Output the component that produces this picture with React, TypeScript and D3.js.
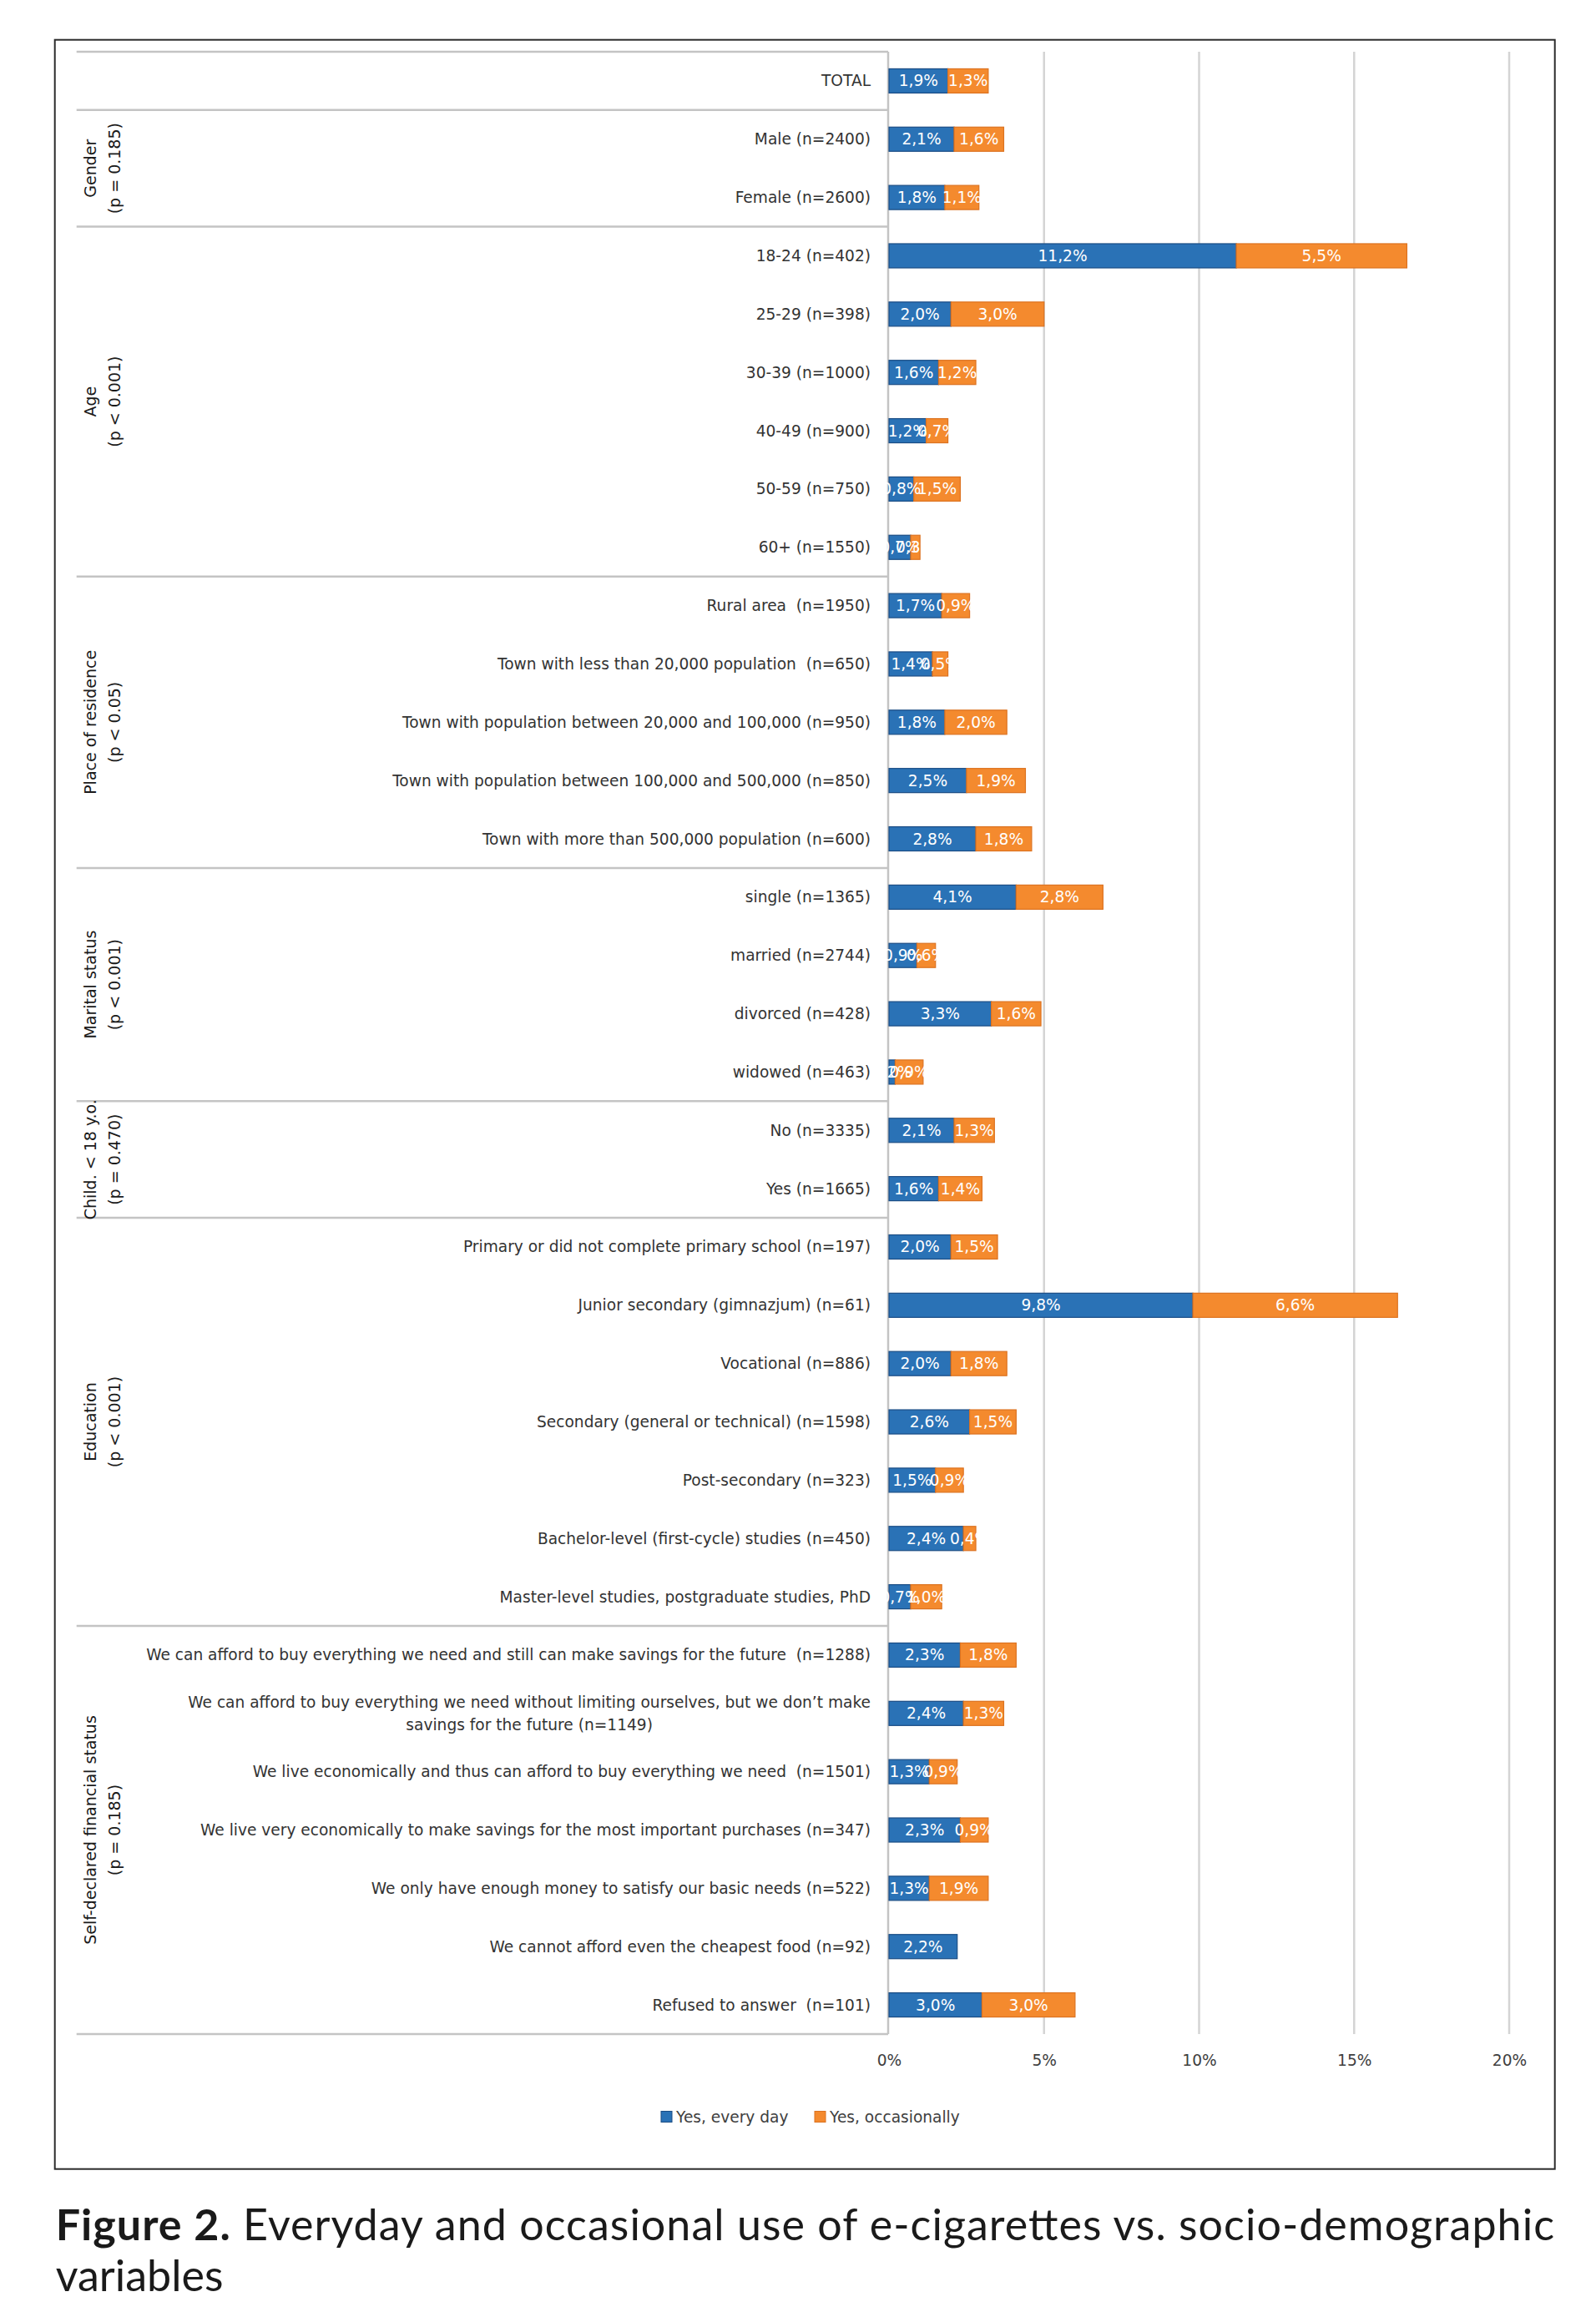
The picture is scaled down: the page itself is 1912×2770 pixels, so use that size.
import React, { useEffect, useRef } from 'react';
import * as d3 from 'd3';

const categories: string[] = [
  'TOTAL',
  'Male (n=2400)',
  'Female (n=2600)',
  '18-24 (n=402)',
  '25-29 (n=398)',
  '30-39 (n=1000)',
  '40-49 (n=900)',
  '50-59 (n=750)',
  '60+ (n=1550)',
  'Rural area  (n=1950)',
  'Town with less than 20,000 population  (n=650)',
  'Town with population between 20,000 and 100,000 (n=950)',
  'Town with population between 100,000 and 500,000 (n=850)',
  'Town with more than 500,000 population (n=600)',
  'single (n=1365)',
  'married (n=2744)',
  'divorced (n=428)',
  'widowed (n=463)',
  'No (n=3335)',
  'Yes (n=1665)',
  'Primary or did not complete primary school (n=197)',
  'Junior secondary (gimnazjum) (n=61)',
  'Vocational (n=886)',
  'Secondary (general or technical) (n=1598)',
  'Post-secondary (n=323)',
  'Bachelor-level (first-cycle) studies (n=450)',
  'Master-level studies, postgraduate studies, PhD',
  'We can afford to buy everything we need and still can make savings for the future  (n=1288)',
  'We can afford to buy everything we need without limiting ourselves, but we don\u2019t make\nsavings for the future (n=1149)',
  'We live economically and thus can afford to buy everything we need  (n=1501)',
  'We live very economically to make savings for the most important purchases (n=347)',
  'We only have enough money to satisfy our basic needs (n=522)',
  'We cannot afford even the cheapest food (n=92)',
  'Refused to answer  (n=101)',
];

const everyDay: number[] = [
  1.9, 2.1, 1.8, 11.2, 2.0, 1.6, 1.2, 0.8, 0.7, 1.7, 1.4, 1.8, 2.5, 2.8, 4.1, 0.9, 3.3, 0.2,
  2.1, 1.6, 2.0, 9.8, 2.0, 2.6, 1.5, 2.4, 0.7, 2.3, 2.4, 1.3, 2.3, 1.3, 2.2, 3.0,
];

const occasionally: number[] = [
  1.3, 1.6, 1.1, 5.5, 3.0, 1.2, 0.7, 1.5, 0.3, 0.9, 0.5, 2.0, 1.9, 1.8, 2.8, 0.6, 1.6, 0.9,
  1.3, 1.4, 1.5, 6.6, 1.8, 1.5, 0.9, 0.4, 1.0, 1.8, 1.3, 0.9, 0.9, 1.9, 0, 3.0,
];

const seriesNames: string[] = ['Yes, every day', 'Yes, occasionally'];

const groupNames: string[] = [
  'Gender',
  'Age',
  'Place of residence',
  'Marital status',
  'Child. < 18 y.o.',
  'Education',
  'Self-declared financial status',
];
const groupPValues: string[] = [
  '(p = 0.185)',
  '(p < 0.001)',
  '(p < 0.05)',
  '(p < 0.001)',
  '(p = 0.470)',
  '(p < 0.001)',
  '(p = 0.185)',
];
const groupSizes: number[] = [2, 6, 5, 4, 2, 7, 7];
const ungroupedLeading = 1; // TOTAL

const xTicks: number[] = [0, 5, 10, 15, 20];

const captionBold = 'Figure 2.';
const captionRest = ' Everyday and occasional use of e-cigarettes vs. socio-demographic';
const captionLine2 = 'variables';

const W = 1912;
const H = 2770;
const BLUE = '#2A72B6';
const BLUE_STROKE = '#1A4C84';
const ORANGE = '#F48A2E';
const ORANGE_STROKE = '#DC7220';
const FONT = '"DejaVu Sans", Verdana, sans-serif';
const CAP_FONT = 'Lato, "Open Sans", sans-serif';

export default function App() {
  const ref = useRef<SVGSVGElement | null>(null);

  useEffect(() => {
    const svg = d3.select(ref.current);
    svg.selectAll('*').remove();

    const frame = { x0: 65.7, y0: 47.7, x1: 1862.7, y1: 2598.7 };
    const plotTop = 62;
    const plotBottom = 2437;
    const tableLeft = 91.7;
    const tableRight = 1064;
    const labelRight = 1043;

    svg.append('rect').attr('width', W).attr('height', H).attr('fill', '#fff');
    svg
      .append('rect')
      .attr('x', frame.x0)
      .attr('y', frame.y0)
      .attr('width', frame.x1 - frame.x0)
      .attr('height', frame.y1 - frame.y0)
      .attr('fill', 'none')
      .attr('stroke', '#2b2b2b')
      .attr('stroke-width', 2);

    const x = d3.scaleLinear().domain([0, 20]).range([1065, 1808]);
    const idx = categories.map((_, i) => i);
    const y = d3
      .scaleBand<number>()
      .domain(idx)
      .range([plotTop, plotBottom])
      .paddingInner(0.585)
      .paddingOuter(0.2925);
    const rows = d3.scaleBand<number>().domain(idx).range([plotTop, plotBottom]).padding(0);
    const rowTop = (i: number) => (i < categories.length ? (rows(i) as number) : plotBottom);

    // gridlines
    svg
      .append('g')
      .selectAll('line')
      .data(xTicks.filter((t) => t > 0))
      .join('line')
      .attr('x1', (d) => x(d))
      .attr('x2', (d) => x(d))
      .attr('y1', plotTop)
      .attr('y2', plotBottom)
      .attr('stroke', '#d4d4d4')
      .attr('stroke-width', 2.5);

    // table separators
    const bounds: number[] = [0, ungroupedLeading];
    let acc = ungroupedLeading;
    groupSizes.forEach((s) => {
      acc += s;
      bounds.push(acc);
    });
    svg
      .append('g')
      .selectAll('line')
      .data(bounds)
      .join('line')
      .attr('x1', tableLeft)
      .attr('x2', tableRight)
      .attr('y1', (d) => rowTop(d))
      .attr('y2', (d) => rowTop(d))
      .attr('stroke', '#c4c4c4')
      .attr('stroke-width', 2.5);
    svg
      .append('line')
      .attr('x1', tableRight)
      .attr('x2', tableRight)
      .attr('y1', plotTop)
      .attr('y2', plotBottom)
      .attr('stroke', '#c4c4c4')
      .attr('stroke-width', 2.5);

    // group labels
    const gGroups = svg.append('g').attr('font-family', FONT).attr('font-size', 19).attr('fill', '#1a1a1a');
    let start = ungroupedLeading;
    groupNames.forEach((name, gi) => {
      const top = rowTop(start);
      const bottom = rowTop(start + groupSizes[gi]);
      const cy = (top + bottom) / 2;
      [name, groupPValues[gi]].forEach((t, li) => {
        gGroups
          .append('text')
          .attr('transform', `translate(${li === 0 ? 108 : 137},${cy}) rotate(-90)`)
          .attr('text-anchor', 'middle')
          .attr('dominant-baseline', 'central')
          .text(t);
      });
      start += groupSizes[gi];
    });

    // category labels
    const gCats = svg
      .append('g')
      .attr('font-family', FONT)
      .attr('font-size', 18.6)
      .attr('fill', '#333');
    categories.forEach((c, i) => {
      const cy = (y(i) as number) + y.bandwidth() / 2;
      const lines = c.split('\n');
      if (lines.length === 1) {
        gCats
          .append('text')
          .attr('x', labelRight)
          .attr('y', cy)
          .attr('text-anchor', 'end')
          .attr('dominant-baseline', 'central')
          .style('white-space', 'pre')
          .text(c);
      } else {
        const lh = 27;
        const t1 = gCats
          .append('text')
          .attr('x', labelRight)
          .attr('y', cy - lh / 2)
          .attr('text-anchor', 'end')
          .attr('dominant-baseline', 'central')
          .style('white-space', 'pre')
          .text(lines[0]);
        const w1 = (t1.node() as SVGTextElement).getComputedTextLength();
        gCats
          .append('text')
          .attr('x', labelRight - w1 / 2)
          .attr('y', cy + lh / 2)
          .attr('text-anchor', 'middle')
          .attr('dominant-baseline', 'central')
          .style('white-space', 'pre')
          .text(lines[1]);
      }
    });

    // stacked bars
    const table = categories.map((c, i) => ({ i, every: everyDay[i], occ: occasionally[i] }));
    const stacked = d3.stack<any>().keys(['every', 'occ'])(table);
    const fills = [BLUE, ORANGE];
    const strokes = [BLUE_STROKE, ORANGE_STROKE];
    const gBars = svg.append('g');
    stacked.forEach((layer, li) => {
      gBars
        .append('g')
        .selectAll('rect')
        .data(layer.filter((d) => d[1] - d[0] > 0))
        .join('rect')
        .attr('x', (d) => x(d[0]))
        .attr('y', (d) => y(d.data.i) as number)
        .attr('width', (d) => x(d[1]) - x(d[0]))
        .attr('height', y.bandwidth())
        .attr('fill', fills[li])
        .attr('stroke', strokes[li])
        .attr('stroke-width', 1.2);
    });
    const fmt = (v: number) => v.toFixed(1).replace('.', ',') + '%';
    const gLabels = svg.append('g').attr('font-family', FONT).attr('font-size', 18.6).attr('fill', '#fff');
    stacked.forEach((layer) => {
      gLabels
        .append('g')
        .selectAll('text')
        .data(layer.filter((d) => d[1] - d[0] > 0))
        .join('text')
        .attr('x', (d) => (x(d[0]) + x(d[1])) / 2)
        .attr('y', (d) => (y(d.data.i) as number) + y.bandwidth() / 2)
        .attr('text-anchor', 'middle')
        .attr('dominant-baseline', 'central')
        .text((d) => fmt(d[1] - d[0]));
    });

    // x axis
    const axis = d3
      .axisBottom(x)
      .tickValues(xTicks)
      .tickSize(0)
      .tickPadding(0)
      .tickFormat((d) => `${d}%`);
    const gAxis = svg.append('g').attr('transform', `translate(0,2468)`).call(axis);
    gAxis.select('.domain').remove();
    gAxis
      .selectAll('text')
      .attr('dy', null)
      .attr('y', 0)
      .attr('dominant-baseline', 'central')
      .attr('font-family', FONT)
      .attr('font-size', 18.6)
      .attr('fill', '#404040');

    // legend
    const legendX = [792, 976];
    const gLeg = svg.append('g').attr('font-family', FONT).attr('font-size', 18.6).attr('fill', '#404040');
    seriesNames.forEach((s, i) => {
      gLeg
        .append('rect')
        .attr('x', legendX[i])
        .attr('y', 2529.5)
        .attr('width', 13)
        .attr('height', 13)
        .attr('fill', fills[i])
        .attr('stroke', strokes[i])
        .attr('stroke-width', 1);
      gLeg
        .append('text')
        .attr('x', legendX[i] + 18)
        .attr('y', 2536)
        .attr('dominant-baseline', 'central')
        .text(s);
    });

    // caption
    const cap = svg
      .append('text')
      .attr('x', 66.7)
      .attr('y', 2684)
      .attr('font-family', CAP_FONT)
      .attr('font-size', 52)
      .attr('fill', '#1a1a1a');
    cap.append('tspan').attr('font-weight', 'bold').text(captionBold);
    cap.append('tspan').style('white-space', 'pre').text(captionRest);
    const capW = (cap.node() as SVGTextElement).getComputedTextLength();
    const target = 1862 - 66.7;
    if (Math.abs(capW - target) > 2) {
      cap.attr('textLength', target).attr('lengthAdjust', 'spacing');
    }
    svg
      .append('text')
      .attr('x', 66.7)
      .attr('y', 2745)
      .attr('font-family', CAP_FONT)
      .attr('font-size', 52)
      .attr('fill', '#1a1a1a')
      .text(captionLine2);
  }, []);

  return (
    <div style={{ position: 'absolute', left: 0, top: 0 }}>
      <svg ref={ref} width={W} height={H} style={{ display: 'block' }} />
    </div>
  );
}
